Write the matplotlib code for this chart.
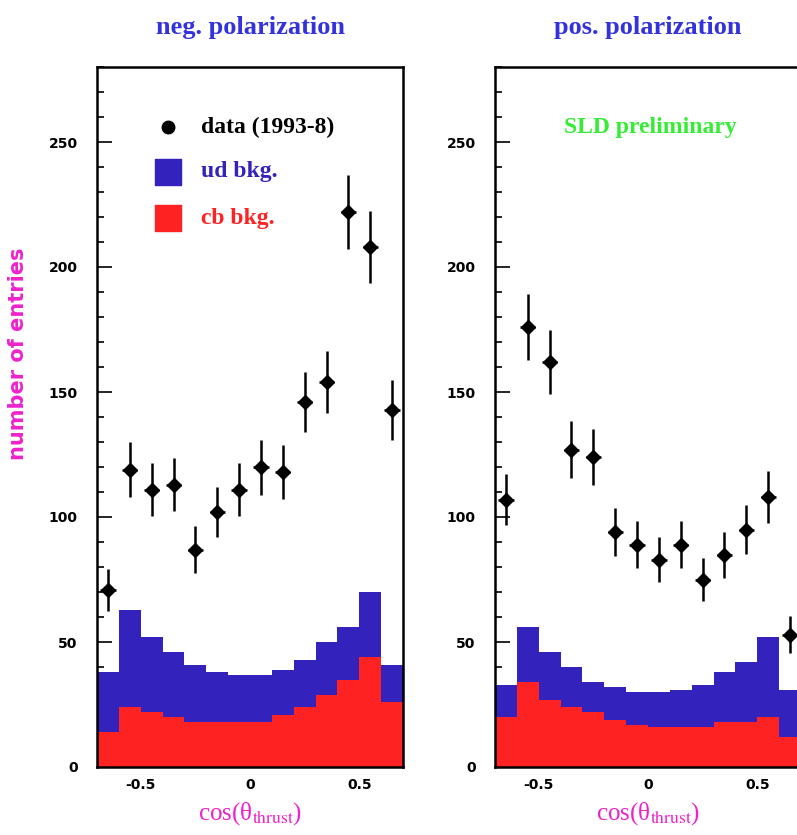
import numpy as np
import matplotlib
matplotlib.use("Agg")
import matplotlib.pyplot as plt
from matplotlib.ticker import MultipleLocator

plt.rcParams['mathtext.fontset'] = 'stix'

# bins in cos(theta_thrust)
bin_centers = [-0.65, -0.55, -0.45, -0.35, -0.25, -0.15, -0.05,
               0.05, 0.15, 0.25, 0.35, 0.45, 0.55, 0.65]

# negative polarization
neg_data = [71, 119, 111, 113, 87, 102, 111, 120, 118, 146, 154, 222, 208, 143]
neg_err = [8.4, 10.9, 10.5, 10.6, 9.3, 10.1, 10.5, 11.0, 10.9, 12.1, 12.4, 14.9, 14.4, 12.0]
neg_cb = [14, 24, 22, 20, 18, 18, 18, 18, 21, 24, 29, 35, 44, 26]
neg_ud = [24, 39, 30, 26, 23, 20, 19, 19, 18, 19, 21, 21, 26, 15]

# positive polarization
pos_data = [107, 176, 162, 127, 124, 94, 89, 83, 89, 75, 85, 95, 108, 53]
pos_err = [10.3, 13.3, 12.7, 11.3, 11.1, 9.7, 9.4, 9.1, 9.4, 8.7, 9.2, 9.7, 10.4, 7.3]
pos_cb = [20, 34, 27, 24, 22, 19, 17, 16, 16, 16, 18, 18, 20, 12]
pos_ud = [13, 22, 19, 16, 12, 13, 13, 14, 15, 17, 20, 24, 32, 19]

titles = ["neg. polarization", "pos. polarization"]

blue = "#3322bb"
red = "#ff2222"
title_blue = "#3333dd"
magenta = "#ee22cc"
serif = ["Liberation Serif", "DejaVu Serif"]

fig = plt.figure(figsize=(7.97, 8.35), dpi=100)
ax1 = fig.add_axes([97 / 797, 68 / 835, 306 / 797, 700 / 835])
ax2 = fig.add_axes([495 / 797, 68 / 835, 306 / 797, 700 / 835])

panels = [(ax1, neg_data, neg_err, neg_cb, neg_ud),
          (ax2, pos_data, pos_err, pos_cb, pos_ud)]

for i, (ax, data, err, cb, ud) in enumerate(panels):
    ax.set_axisbelow(True)
    ax.bar(bin_centers, ud, width=0.1, bottom=cb, color=blue, linewidth=0)
    ax.bar(bin_centers, cb, width=0.1, color=red, linewidth=0)
    ax.errorbar(bin_centers, data, yerr=err, xerr=0.035, fmt='D', color='black',
                markersize=7, elinewidth=1.8, capsize=0, zorder=5)

    ax.set_xlim(-0.7, 0.7)
    ax.set_ylim(0, 280)
    ax.set_xticks([-0.5, 0, 0.5])
    ax.set_xticklabels(["-0.5", "0", "0.5"])
    ax.set_yticks([0, 50, 100, 150, 200, 250])
    ax.yaxis.set_minor_locator(MultipleLocator(10))
    ax.tick_params(axis='both', which='major', direction='in', length=11, width=1.2,
                   labelsize=10, pad=14, top=False, right=False)
    ax.tick_params(axis='y', which='minor', direction='in', length=5, width=1.2)
    ax.tick_params(axis='x', which='major', pad=8)
    for lab in ax.get_xticklabels() + ax.get_yticklabels():
        lab.set_fontweight('bold')
    for sp in ax.spines.values():
        sp.set_linewidth(1.8)

    ax.set_title(titles[i], color=title_blue, fontsize=19, fontweight='bold',
                 family=serif, pad=24)
    ax.set_xlabel(r"cos(θ$_{\rm thrust}$)", color=magenta, fontsize=18,
                  family=serif, labelpad=6)

ax1.set_ylabel("number of entries", color=magenta, fontsize=15, fontweight='bold')
ax1.yaxis.set_label_coords(-0.225, 0.59)

# legend drawn by hand like the original
ax1.plot([-0.376], [256], 'o', color='black', markersize=9)
ax1.text(-0.225, 256, "data (1993-8)", fontsize=17, fontweight='bold', family=serif,
         va='center', ha='left')
ax1.scatter([-0.376], [238], marker='s', s=360, color=blue)
ax1.text(-0.225, 238, "ud bkg.", fontsize=17, fontweight='bold', family=serif,
         color=blue, va='center', ha='left')
ax1.scatter([-0.376], [219.5], marker='s', s=360, color=red)
ax1.text(-0.225, 219.5, "cb bkg.", fontsize=17, fontweight='bold', family=serif,
         color=red, va='center', ha='left')

ax2.text(0.01, 256, "SLD preliminary", fontsize=17, fontweight='bold', family=serif,
         color="#33ee33", va='center', ha='center')

fig.savefig("out.png", dpi=100)
